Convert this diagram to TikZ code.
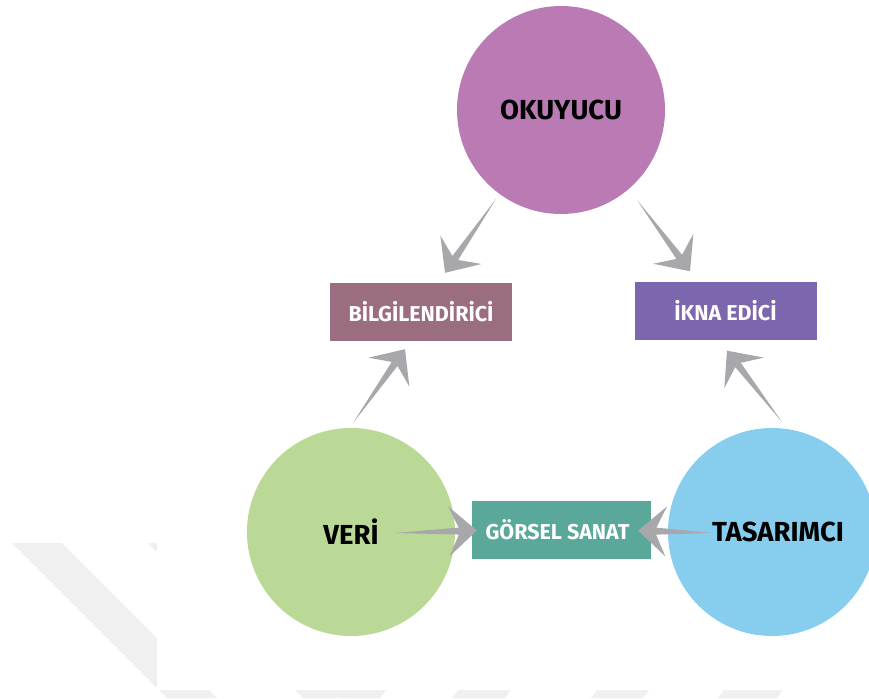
\documentclass[tikz,border=0pt]{standalone}
\usepackage{fontspec}
\setmainfont{Fira Sans}
\usepackage{tikz}
\usetikzlibrary{calc}

\definecolor{okucol}{RGB}{186,122,180}
\definecolor{vericol}{RGB}{187,217,150}
\definecolor{tasacol}{RGB}{135,206,238}
\definecolor{bilgicol}{RGB}{154,110,128}
\definecolor{iknacol}{RGB}{124,102,173}
\definecolor{gorselcol}{RGB}{90,168,154}
\definecolor{arrowgrey}{RGB}{167,167,172}
\definecolor{markgrey}{RGB}{240,240,240}

\tikzset{
  bigcircle/.style={circle, minimum size=208pt, inner sep=0pt,
    font=\fontsize{27.5}{30}\selectfont\bfseries},
  labelbox/.style={rectangle, minimum width=182pt, minimum height=58pt,
    inner sep=0pt, text=white, font=\fontsize{21.5}{24}\selectfont\bfseries},
}

% thin grey shaft with a wide head, #1 = tail, #2 = tip
\newcommand{\greyarrow}[2]{
  \fill[arrowgrey] (#1)
    -- ($(#2)!18pt!(#1)!3.5pt!90:(#1)$)
    -- ($(#2)!28pt!(#1)!25pt!90:(#1)$)
    -- (#2)
    -- ($(#2)!28pt!(#1)!25pt!-90:(#1)$)
    -- ($(#2)!18pt!(#1)!3.5pt!-90:(#1)$)
    -- cycle;
}

\begin{document}
\begin{tikzpicture}[x=1pt,y=-1pt]
        \useasboundingbox (0,0) rectangle (869,698);

        % faint stripes behind the figure
        \fill[markgrey] (12,543) -- (62,543) -- (217,698) -- (167,698) -- cycle;
        \fill[markgrey] (148,543) -- (198,543) -- (353,698) -- (303,698) -- cycle;
        \fill[markgrey] (340,698) -- (380,698) -- (425,640) -- (385,640) -- cycle;
        \fill[markgrey] (452,698) -- (505,698) -- (550,640) -- (497,640) -- cycle;
        \fill[markgrey] (591,698) -- (643,698) -- (688,640) -- (636,640) -- cycle;
        \fill[markgrey] (718,698) -- (777,698) -- (822,640) -- (763,640) -- cycle;
        \fill[white] (157,0) rectangle (869,690);

        \node[bigcircle, fill=okucol] (oku) at (561,110) {OKUYUCU};
        \node[bigcircle, fill=vericol] (veri) at (351,532) {VERİ};
        \node[bigcircle, fill=tasacol] (tasa) at (772,532) {\hspace*{12pt}TASARIMCI};

        \node[labelbox, fill=bilgicol] (bilgi) at (421,312) {BİLGİLENDİRİCİ};
        \node[labelbox, fill=iknacol] (ikna) at (725.5,310.5) {İKNA EDİCİ};
        \node[labelbox, fill=gorselcol, minimum width=179pt] (gorsel) at (561.5,529.5) {GÖRSEL SANAT\hspace*{8pt}};

        \coordinate (t1) at ($(oku.center)+(-65,89)$);
        \coordinate (h1) at ($(bilgi.north)+(24,-10)$);
        \coordinate (t2) at ($(oku.center)+(76,90)$);
        \coordinate (h2) at ($(ikna.north)+(-35.5,-10)$);
        \coordinate (t3) at ($(veri.center)+(2,-109)$);
        \coordinate (h3) at ($(bilgi.south)+(-16,8)$);
        \coordinate (t4) at ($(tasa.center)+(10,-110)$);
        \coordinate (h4) at ($(ikna.south)+(1.5,11)$);
        \coordinate (t5) at ($(veri.center)+(44,1)$);
        \coordinate (h5) at ($(gorsel.west)+(5,1)$);
        \coordinate (t6) at ($(tasa.center)+(-60,1)$);
        \coordinate (h6) at ($(gorsel.east)+(-13,1)$);

        \greyarrow{t1}{h1}
        \greyarrow{t2}{h2}
        \greyarrow{t3}{h3}
        \greyarrow{t4}{h4}
        \greyarrow{t5}{h5}
        \greyarrow{t6}{h6}
      \end{tikzpicture}
\end{document}
